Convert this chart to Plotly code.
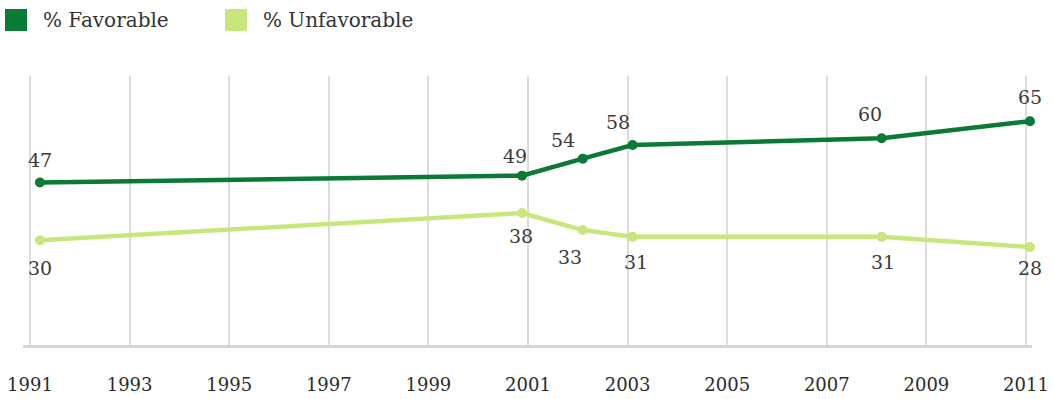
import plotly.graph_objects as go

# Survey dates (decimal years) and percentages
years = [1991.2, 2000.88, 2002.1, 2003.1, 2008.1, 2011.08]
favorable = [47, 49, 54, 58, 60, 65]
unfavorable = [30, 38, 33, 31, 31, 28]

tick_years = list(range(1991, 2012, 2))
tick_labels = [str(y) for y in tick_years]

series_names = ["% Favorable", "% Unfavorable"]
colors = ["#0b7a37", "#c7e77c"]

# label offsets in pixels (dx, dy; dy positive = downward)
fav_offsets = [(0, -22), (-7, -20), (-20, -19), (-15, -23), (-12, -24), (0, -24)]
unf_offsets = [(0, 28), (-1, 23), (-13, 27), (3, 25), (1, 25), (0, 21)]

FONT = "DejaVu Serif"
W, H = 1053, 399
ML, MR, MT, MB = 23, 21, 76, 54

fig = go.Figure()
for vals, col, name in zip([favorable, unfavorable], colors, series_names):
    fig.add_trace(go.Scatter(
        x=years, y=vals, mode="lines+markers", name=name,
        line=dict(color=col, width=4.5),
        marker=dict(color=col, size=10),
        cliponaxis=False, showlegend=False,
    ))

annotations = []
for vals, offs in [(favorable, fav_offsets), (unfavorable, unf_offsets)]:
    for x, v, (dx, dy) in zip(years, vals, offs):
        annotations.append(dict(
            x=x, y=v, text=str(v), showarrow=False,
            xshift=dx, yshift=-dy,
            font=dict(family=FONT, size=19, color="#3a3a3a"),
        ))

# legend: coloured squares with labels above the plot
pw = W - ML - MR
ph = H - MT - MB
def px_x(p):
    return (p - ML) / pw
def px_y(p):
    return (H - MB - p) / ph

shapes = []
legend_x = [5, 225]
for lx, col, name in zip(legend_x, colors, series_names):
    shapes.append(dict(
        type="rect", xref="paper", yref="paper",
        x0=px_x(lx), x1=px_x(lx + 22), y0=px_y(31), y1=px_y(9),
        fillcolor=col, line=dict(width=0),
    ))
    annotations.append(dict(
        xref="paper", yref="paper", x=px_x(lx + 36), y=px_y(20),
        xanchor="left", yanchor="middle", text=name, showarrow=False,
        font=dict(family=FONT, size=20, color="#333333"),
    ))

fig.update_layout(
    width=W, height=H,
    margin=dict(l=ML, r=MR, t=MT, b=MB, autoexpand=False),
    paper_bgcolor="white", plot_bgcolor="white",
    annotations=annotations, shapes=shapes,
    xaxis=dict(
        range=[1990.86, 2011.12], automargin=False,
        tickmode="array", tickvals=tick_years, ticktext=tick_labels,
        showgrid=True, gridcolor="#dcdcda", gridwidth=2,
        showline=True, linecolor="#d6d6d2", linewidth=3,
        zeroline=False, ticks="", ticklabelstandoff=21,
        tickfont=dict(family=FONT, size=18, color="#2a2a2a"),
    ),
    yaxis=dict(
        range=[-0.8, 78.3], visible=False, showgrid=False, zeroline=False,
        automargin=False,
    ),
)

fig.write_html("out.html")
